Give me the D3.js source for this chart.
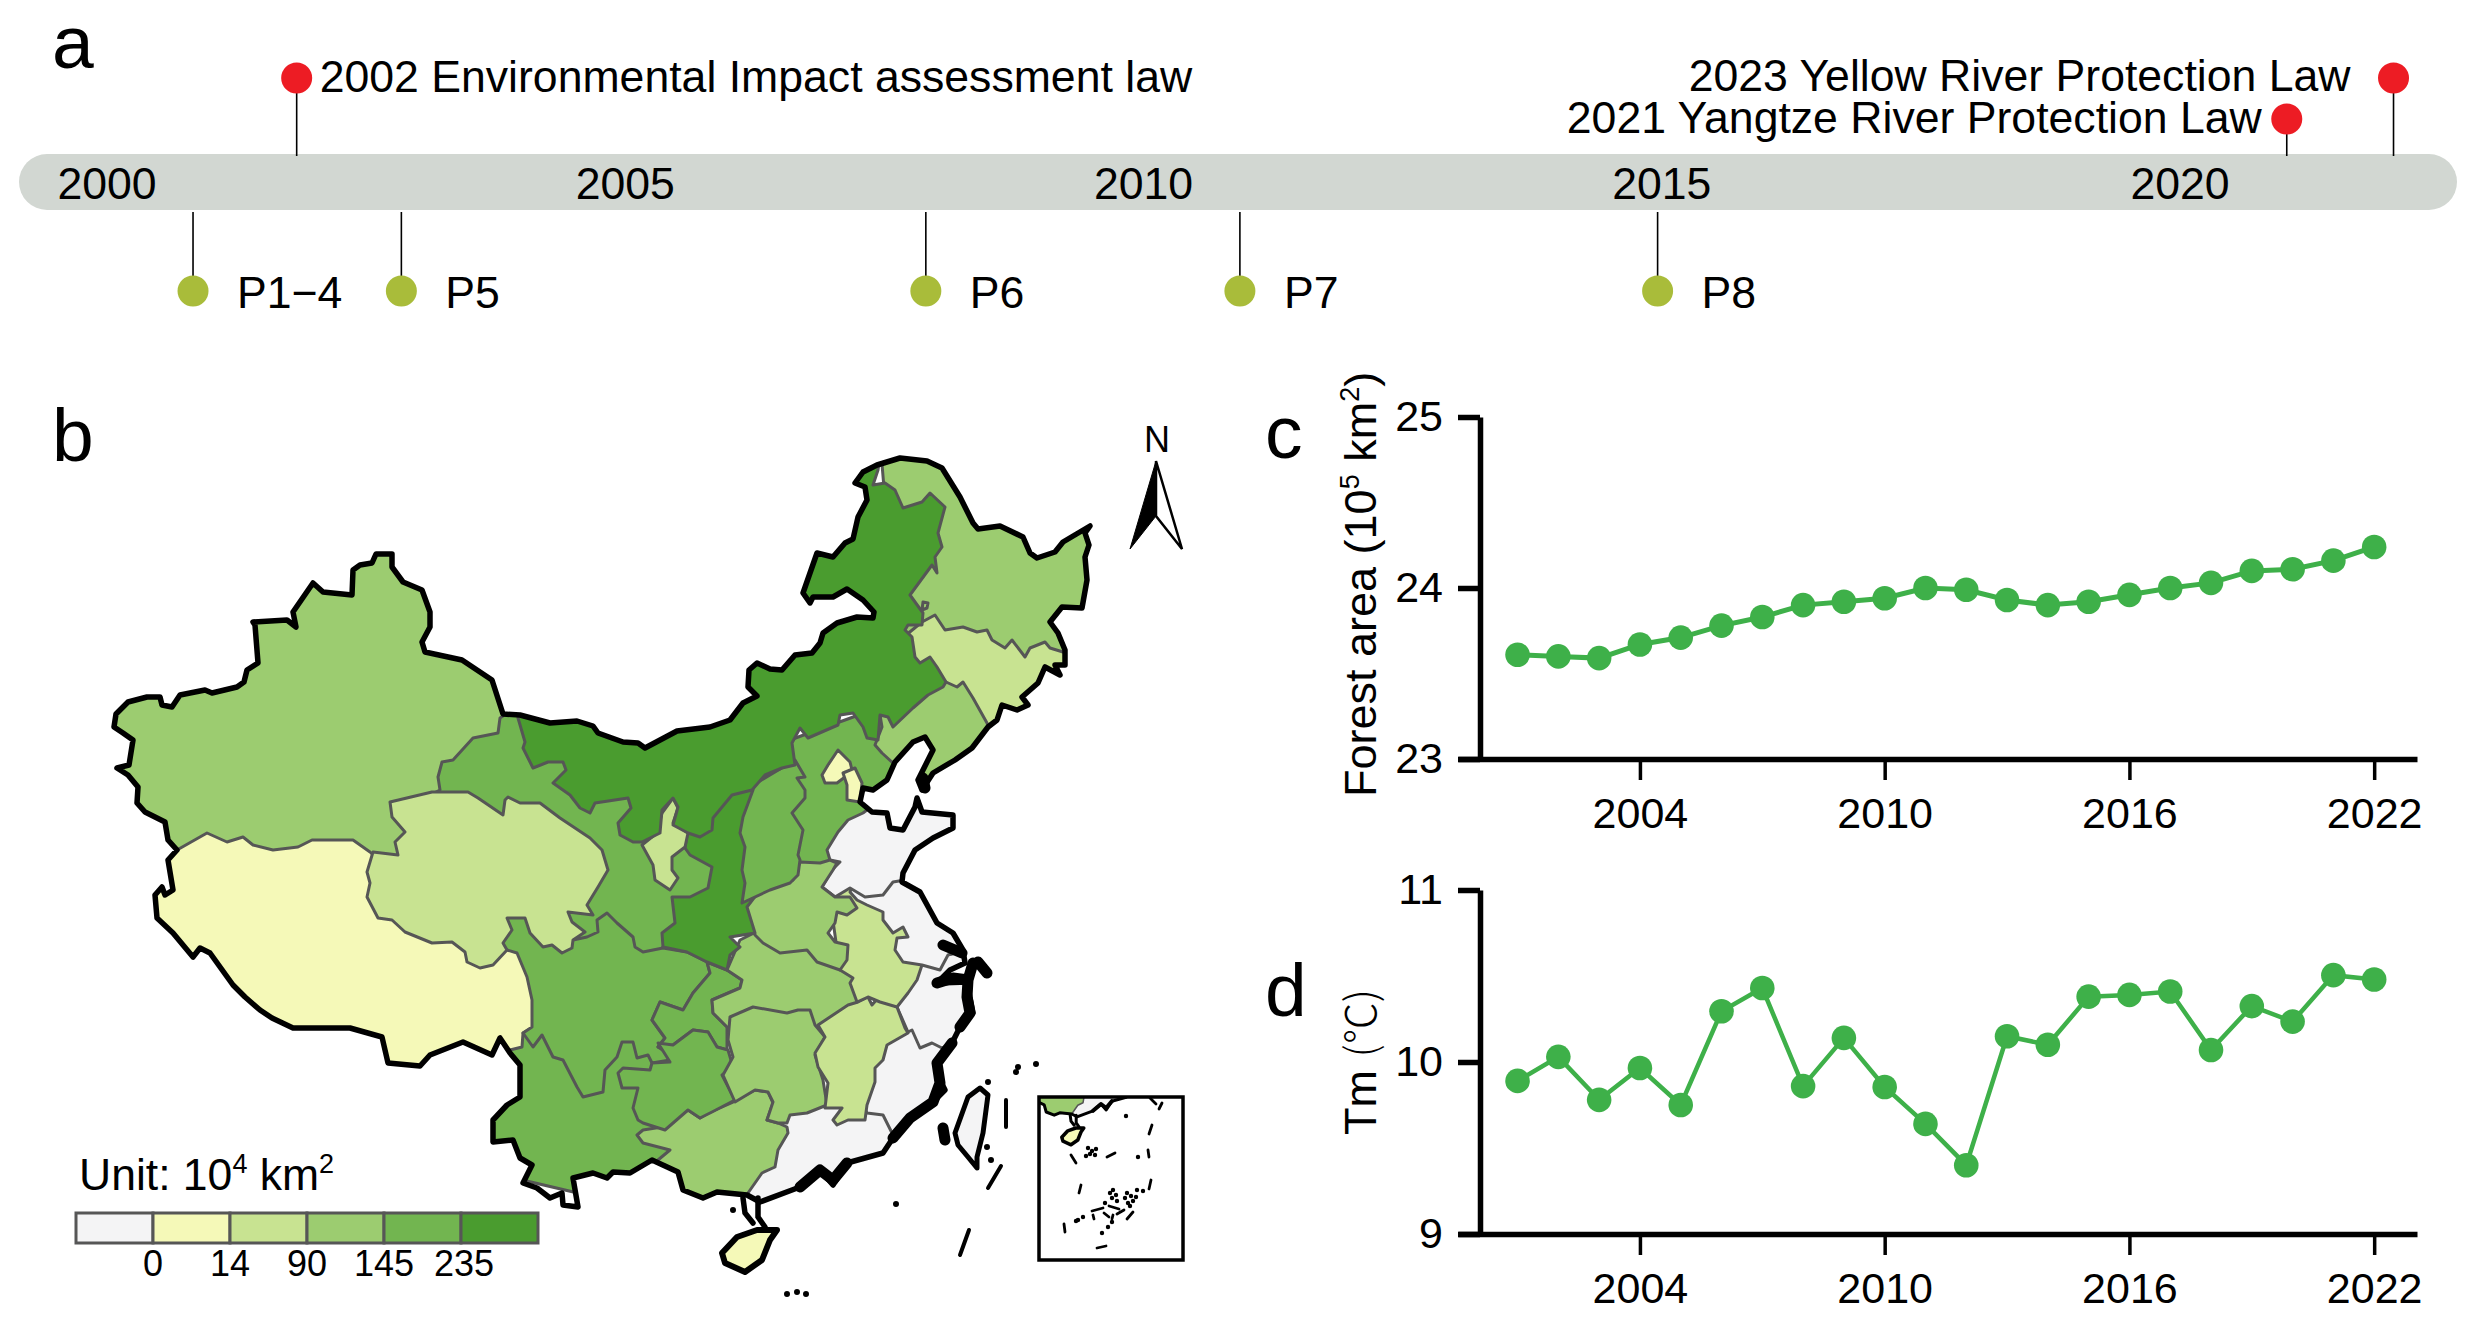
<!DOCTYPE html>
<html>
<head>
    <meta charset="utf-8">
    <script src="https://cdn.jsdelivr.net/npm/d3@7"></script>
</head>
<body style="margin:0px; background:white;">
<svg id="chart" width="2477" height="1328"></svg>
<script>
// ---------- panel a: timeline ----------
var axisYears = [2000, 2005, 2010, 2015, 2020];
var lawYears = [2001.83, 2021.03, 2022.06];
var lawLabels = ["2002 Environmental Impact assessment law", "2021 Yangtze River Protection Law", "2023 Yellow River Protection Law"];
var planYears = [2000.83, 2002.84, 2007.9, 2010.93, 2014.96];
var planLabels = ["P1\u22124", "P5", "P6", "P7", "P8"];

// ---------- panels c, d: yearly series ----------
var years = [2001,2002,2003,2004,2005,2006,2007,2008,2009,2010,2011,2012,2013,2014,2015,2016,2017,2018,2019,2020,2021,2022];
var forestArea = [23.61,23.60,23.59,23.67,23.71,23.78,23.83,23.90,23.92,23.94,24.00,23.99,23.93,23.90,23.92,23.96,24.00,24.03,24.10,24.11,24.16,24.24];
var meanTemp = [9.89,10.03,9.78,9.965,9.75,10.295,10.43,9.86,10.14,9.855,9.64,9.40,10.15,10.10,10.38,10.39,10.41,10.07,10.325,10.235,10.505,10.48];
var yearTicks = [2004, 2010, 2016, 2022];
var forestTicks = [23, 24, 25];
var tempTicks = [9, 10, 11];

// ---------- panel b: legend classes ----------
var binColors = ["#f4f4f5", "#f5f9b8", "#c8e391", "#9ccc70", "#72b550", "#4a9c2f"];
var binLabels = ["0", "14", "90", "145", "235"];

// ---------- panel b: outlines, in map grid units ----------
// Painted in order and clipped to the mainland outline, so a ring only has to
// be exact along borders with the provinces painted before it.
var mainland = [[177,850],[168,840],[165,822],[145,812],[137,803],[138,787],[128,775],[117,768],[129,765],[133,740],[123,733],[114,727],[116,714],[128,702],[147,697],[160,697],[162,705],[172,707],[180,695],[205,690],[212,693],[237,687],[244,682],[247,670],[258,663],[255,625],[253,622],[287,620],[296,627],[293,612],[313,583],[323,592],[352,595],[353,570],[360,565],[372,563],[376,554],[392,554],[392,567],[403,582],[422,590],[430,612],[430,627],[422,642],[425,652],[462,660],[492,680],[503,714],[520,715],[550,723],[577,721],[593,726],[598,733],[623,742],[638,743],[645,748],[677,731],[710,727],[730,720],[743,703],[757,696],[748,687],[749,670],[757,663],[770,669],[782,670],[795,655],[812,653],[820,643],[823,633],[837,623],[857,617],[873,618],[874,612],[863,600],[847,589],[833,597],[813,597],[810,603],[803,593],[817,553],[833,557],[845,543],[853,539],[858,517],[867,500],[865,487],[855,483],[863,472],[877,465],[900,458],[927,461],[942,468],[960,497],[973,523],[978,529],[1000,526],[1023,537],[1030,553],[1037,558],[1055,552],[1063,542],[1090,526],[1085,533],[1089,545],[1085,557],[1087,580],[1082,608],[1062,607],[1050,622],[1058,633],[1065,650],[1065,665],[1055,665],[1060,675],[1045,667],[1038,683],[1022,697],[1028,705],[1017,710],[1002,705],[997,720],[988,727],[972,748],[955,760],[933,773],[922,790],[918,780],[933,750],[925,737],[913,742],[895,762],[887,780],[873,790],[863,788],[860,802],[872,812],[887,813],[890,828],[903,830],[915,807],[917,798],[922,812],[953,815],[953,828],[933,838],[915,850],[903,873],[902,882],[920,892],[937,923],[953,933],[963,950],[965,963],[950,970],[937,983],[968,982],[968,987],[973,1013],[960,1027],[952,1043],[937,1063],[940,1080],[945,1090],[933,1102],[910,1118],[893,1138],[883,1153],[847,1163],[833,1185],[820,1170],[800,1187],[760,1202],[747,1195],[717,1192],[703,1198],[683,1190],[678,1172],[652,1160],[630,1173],[613,1172],[607,1178],[593,1173],[573,1178],[578,1207],[563,1205],[562,1193],[550,1198],[537,1188],[523,1183],[532,1165],[520,1158],[513,1140],[493,1142],[493,1120],[507,1105],[520,1097],[520,1065],[510,1053],[500,1038],[492,1055],[463,1042],[430,1055],[420,1066],[388,1063],[382,1037],[350,1028],[293,1028],[272,1018],[260,1010],[245,997],[233,985],[210,953],[200,948],[193,957],[173,933],[157,918],[155,895],[162,887],[165,895],[173,890],[168,860]];

var xinjiangRing = [[100,540],[510,540],[510,900],[100,900]];
var tibetRing = [[140,860],[177,850],[207,833],[227,842],[243,837],[253,845],[273,850],[298,847],[312,840],[353,840],[370,852],[400,880],[520,920],[560,1000],[540,1070],[490,1100],[300,1080],[130,900]];
var gansuRing = [[510,700],[503,716],[500,718],[498,733],[473,738],[453,760],[442,762],[438,777],[440,790],[420,800],[470,850],[520,950],[650,960],[680,930],[715,900],[715,860],[680,800],[640,700]];
var heilongjiangRing = [[880,440],[1100,440],[1100,680],[900,680]];
var jilinRing = [[900,640],[922,622],[935,615],[945,630],[963,627],[977,632],[987,630],[992,640],[1005,648],[1012,640],[1025,657],[1030,648],[1045,642],[1050,648],[1063,652],[1075,660],[1075,700],[1010,760],[930,760],[900,680]];
var hebeiRing = [[790,740],[900,700],[900,830],[860,850],[830,880],[790,880]];
var liaoningRing = [[880,700],[946,682],[957,687],[963,682],[973,698],[987,723],[1000,760],[940,800],[893,763],[882,753],[875,745],[882,727],[880,715]];
var yunnanRing = [[510,1050],[522,1047],[523,1033],[545,1020],[640,1030],[665,1060],[680,1125],[690,1180],[650,1210],[480,1170],[480,1060]];
var guangdongRing = [[770,1135],[790,1105],[850,1105],[875,1095],[910,1130],[900,1200],[740,1210],[755,1175]];
var fujianRing = [[880,1030],[1000,1030],[1000,1140],[892,1133],[883,1115],[867,1113],[860,1100],[860,1060]];
var zhejiangRing = [[920,960],[1000,945],[1000,1060],[950,1045],[942,1048],[932,1043],[920,1048],[912,1030],[908,1032],[897,1007],[910,985]];
var guangxiRing = [[643,1130],[662,1127],[688,1110],[700,1118],[710,1112],[733,1102],[755,1090],[768,1092],[773,1103],[767,1120],[778,1123],[787,1127],[788,1133],[778,1150],[775,1167],[762,1173],[748,1193],[750,1220],[660,1190],[658,1160],[670,1150],[643,1143],[637,1135]];
var sichuanRing = [[507,950],[517,953],[527,977],[532,1000],[532,1027],[523,1033],[533,1047],[542,1035],[553,1057],[563,1060],[577,1087],[583,1097],[603,1092],[605,1070],[617,1057],[622,1042],[633,1042],[637,1058],[648,1055],[652,1063],[670,1060],[670,1055],[658,1047],[665,1038],[652,1020],[660,1002],[683,1010],[693,993],[710,973],[707,962],[687,952],[663,948],[643,952],[635,947],[633,937],[617,923],[607,913],[597,920],[598,932],[587,937],[573,940],[560,900],[510,905],[495,950]];
var chongqingRing = [[707,962],[710,973],[693,993],[683,1010],[660,1002],[652,1020],[665,1038],[658,1047],[673,1045],[693,1030],[708,1032],[717,1047],[727,1050],[727,1027],[713,1013],[712,1000],[740,988],[742,980],[727,970]];
var guizhouRing = [[618,1073],[623,1068],[650,1070],[652,1063],[670,1062],[658,1043],[673,1045],[693,1030],[708,1032],[717,1047],[728,1050],[733,1067],[722,1075],[735,1100],[712,1112],[700,1118],[688,1110],[665,1130],[643,1123],[638,1120],[633,1108],[638,1088],[622,1088]];
var hubeiRing = [[727,970],[742,980],[740,988],[712,1000],[713,1013],[727,1027],[740,1040],[860,1030],[870,990],[840,960],[760,930],[740,940]];
var hunanRing = [[730,1017],[753,1007],[787,1013],[798,1010],[810,1010],[815,1025],[825,1037],[815,1055],[823,1080],[827,1105],[807,1113],[790,1115],[787,1123],[778,1123],[767,1120],[773,1102],[768,1092],[755,1090],[735,1102],[723,1075],[733,1057],[728,1040]];
var jiangxiRing = [[818,1025],[848,1005],[858,1002],[868,997],[872,1005],[878,998],[897,1007],[905,1028],[908,1033],[887,1045],[883,1060],[875,1068],[875,1082],[867,1105],[865,1120],[848,1120],[837,1125],[833,1120],[842,1108],[825,1108],[828,1083],[818,1067],[815,1053],[825,1037]];
var anhuiRing = [[850,880],[930,950],[922,965],[917,980],[908,993],[897,1007],[880,1002],[868,997],[857,1002],[850,983],[853,978],[840,970],[830,900]];
var jiangsuRing = [[855,880],[950,880],[980,945],[948,955],[940,970],[922,965],[903,962],[895,950],[897,938],[908,937],[903,927],[893,933],[883,920],[883,912],[867,905],[857,900],[850,892]];
var shandongRing = [[863,813],[848,820],[838,832],[827,850],[830,860],[840,862],[832,870],[822,887],[835,897],[850,888],[865,897],[883,895],[893,882],[905,880],[960,860],[960,800],[880,800]];
var henanRing = [[742,903],[770,888],[793,880],[800,862],[820,863],[830,860],[837,863],[833,870],[822,887],[835,897],[850,897],[857,908],[847,915],[837,912],[835,923],[828,933],[835,942],[848,945],[847,960],[840,970],[817,962],[807,950],[780,953],[763,943],[755,935]];
var shaanxiRing = [[686,825],[687,835],[685,848],[690,855],[712,867],[708,888],[690,897],[672,897],[675,923],[662,933],[663,947],[687,952],[707,962],[727,970],[730,955],[740,947],[730,937],[755,933],[747,907],[760,890],[770,800],[730,780]];
var shanxiRing = [[753,785],[795,760],[805,777],[797,778],[805,790],[805,798],[792,813],[803,830],[798,855],[800,860],[798,875],[790,883],[770,890],[742,903],[745,883],[742,870],[745,847],[740,833],[743,817],[753,790]];
var ningxiaRing = [[673,798],[678,808],[673,823],[688,833],[685,847],[672,857],[672,870],[678,878],[670,890],[655,880],[653,865],[642,845],[657,833],[662,813]];
var qinghaiRing = [[390,802],[432,792],[468,792],[478,798],[503,815],[505,800],[508,797],[520,803],[540,803],[560,818],[590,838],[602,850],[608,870],[598,887],[587,905],[593,915],[568,912],[572,922],[585,932],[573,940],[572,948],[562,953],[552,945],[543,947],[530,933],[525,918],[507,918],[512,930],[503,943],[507,950],[493,965],[480,968],[467,962],[465,952],[452,942],[432,943],[405,932],[392,920],[378,918],[367,897],[370,883],[367,872],[373,852],[398,855],[395,842],[405,832],[392,817]];
var beijingRing = [[838,750],[850,762],[852,770],[845,777],[837,783],[825,783],[822,775],[828,765]];
var tianjinRing = [[855,768],[862,783],[860,802],[847,800],[847,785],[843,773]];
var innerMongoliaRing = [[518,700],[518,718],[525,742],[523,748],[533,768],[548,762],[563,762],[566,770],[553,783],[570,795],[580,808],[590,813],[595,803],[628,798],[631,808],[618,823],[620,835],[633,842],[642,842],[660,833],[662,810],[673,798],[678,807],[673,825],[688,833],[700,837],[712,830],[713,818],[732,795],[752,790],[765,775],[782,768],[795,765],[792,743],[800,728],[808,738],[838,725],[840,715],[853,713],[863,727],[867,738],[878,740],[880,715],[888,717],[893,727],[913,708],[928,695],[943,687],[946,682],[937,667],[930,657],[920,663],[915,657],[912,637],[905,630],[908,625],[922,625],[923,613],[910,595],[932,565],[937,573],[935,557],[942,547],[938,533],[945,507],[930,493],[922,502],[903,508],[895,490],[885,483],[873,485],[878,470],[880,455],[850,440]];
var enclaveRing = [[922,610],[923,602],[928,603],[927,608]];

var provinceNames = ["Xinjiang","Tibet","Gansu","Heilongjiang","Jilin","Hebei","Liaoning","Yunnan","Guangdong","Fujian","Zhejiang","Guangxi","Sichuan","Chongqing","Guizhou","Hubei","Hunan","Jiangxi","Anhui","Jiangsu","Shandong","Henan","Shaanxi","Shanxi","Ningxia","Qinghai","Beijing","Tianjin","Inner Mongolia","Heilongjiang enclave"];
var provinceBins = [3,1,4,3,2,4,3,4,0,0,0,3,4,4,4,3,3,2,2,0,0,3,5,4,2,2,1,1,5,3];
var provinceRings = [xinjiangRing,tibetRing,gansuRing,heilongjiangRing,jilinRing,hebeiRing,liaoningRing,yunnanRing,guangdongRing,fujianRing,zhejiangRing,guangxiRing,sichuanRing,chongqingRing,guizhouRing,hubeiRing,hunanRing,jiangxiRing,anhuiRing,jiangsuRing,shandongRing,henanRing,shaanxiRing,shanxiRing,ningxiaRing,qinghaiRing,beijingRing,tianjinRing,innerMongoliaRing,enclaveRing];

var hainanRing = [[777,1230],[770,1240],[762,1260],[745,1272],[725,1263],[722,1253],[737,1237],[757,1230]];
var taiwanRing = [[980,1088],[988,1095],[983,1133],[977,1157],[977,1168],[968,1157],[958,1145],[955,1133],[968,1097]];

// island rich stretches of the coast, where the border reads as a thick line
var coastRuns = [
    [[943,945],[962,953]],
    [[937,983],[953,978],[968,980]],
    [[973,963],[968,980],[967,997],[970,1013],[960,1027]],
    [[978,962],[987,973]],
    [[952,1043],[937,1063],[940,1083],[933,1102],[910,1118],[893,1138]],
    [[847,1163],[833,1180],[820,1170],[800,1187]],
    [[923,778],[925,788]],
    [[943,1128],[945,1140]]
];
var leizhouLines = [
    [[743,1198],[745,1213],[753,1223]],
    [[758,1198],[758,1217],[765,1227]]
];
var seaDashes = [
    [[1006,1100],[1006,1127]],
    [[1001,1166],[988,1188]],
    [[969,1230],[960,1255]]
];
var islandDots = [[896,1204],[1036,1064],[1018,1067],[1016,1072],[988,1082],[987,1147],[991,1160],[733,1210],[787,1294],[797,1292],[806,1294]];

// South China Sea inset
var insetDashes = [
    [[1150,1098],[1156,1104]],
    [[1162,1103],[1159,1109]],[[1152,1125],[1149,1134]],[[1148,1150],[1149,1157]],[[1151,1180],[1149,1189]],
    [[1071,1155],[1076,1163]],[[1081,1185],[1079,1193]],[[1064,1224],[1065,1232]],[[1133,1212],[1127,1219]],
    [[1097,1248],[1106,1246]],[[1092,1211],[1103,1208]],[[1109,1206],[1119,1209]],[[1117,1214],[1124,1210]],
    [[1093,1215],[1094,1219]],[[1104,1213],[1109,1217]],[[1113,1215],[1112,1219]],[[1107,1157],[1115,1153]]
];
var insetDots = [[1126,1116],[1138,1157],[1102,1233],[1108,1227],[1112,1222],
    [1088,1148],[1092,1151],[1096,1149],[1090,1154],[1086,1156],[1095,1155],
    [1113,1190],[1116,1195],[1112,1198],[1117,1201],[1110,1193],
    [1127,1193],[1131,1196],[1125,1198],[1133,1201],[1128,1203],[1136,1197],[1130,1206],
    [1137,1190],[1143,1191],[1105,1203],[1078,1220],[1083,1217],[1076,1221]];

var svg = d3.select("#chart");
var ink = "#000000";
var font = "'Liberation Sans', Arial, sans-serif";
var lineGreen = "#3eb049";

function panelLetter(text, x, y) {
    svg.append("text").attr("x", x).attr("y", y)
        .attr("font-family", font).attr("font-size", 75).text(text);
}
panelLetter("a", 52, 68);
panelLetter("b", 52, 461);
panelLetter("c", 1265, 458);
panelLetter("d", 1265, 1016);

// ---------- panel a ----------
var timeX = d3.scaleLinear().domain([2000, 2020]).range([107, 2180]);
var timeG = svg.append("g").attr("font-family", font).attr("font-size", 44.6);

timeG.append("rect").attr("x", 19).attr("y", 154).attr("width", 2438).attr("height", 56)
    .attr("rx", 28).attr("ry", 28).attr("fill", "#d2d7d2");

timeG.selectAll(".year").data(axisYears).enter().append("text")
    .attr("x", d => timeX(d)).attr("y", 199).attr("text-anchor", "middle").text(d => d);

var lawTop = [78, 119, 78];
timeG.selectAll(".lawline").data(lawYears).enter().append("line")
    .attr("x1", d => timeX(d)).attr("x2", d => timeX(d))
    .attr("y1", (d, i) => lawTop[i]).attr("y2", 156)
    .attr("stroke", ink).attr("stroke-width", 1.6);
timeG.selectAll(".lawdot").data(lawYears).enter().append("circle")
    .attr("cx", d => timeX(d)).attr("cy", (d, i) => lawTop[i]).attr("r", 15.5).attr("fill", "#ed1c24");
var lawDx = [23, -25, -43];
var lawBase = [92, 133, 91];
timeG.selectAll(".lawtext").data(lawLabels).enter().append("text")
    .attr("x", (d, i) => timeX(lawYears[i]) + lawDx[i]).attr("y", (d, i) => lawBase[i])
    .attr("text-anchor", (d, i) => i == 0 ? "start" : "end").text(d => d);

timeG.selectAll(".planline").data(planYears).enter().append("line")
    .attr("x1", d => timeX(d)).attr("x2", d => timeX(d)).attr("y1", 212).attr("y2", 290)
    .attr("stroke", ink).attr("stroke-width", 1.6);
timeG.selectAll(".plandot").data(planYears).enter().append("circle")
    .attr("cx", d => timeX(d)).attr("cy", 291).attr("r", 15.5).attr("fill", "#a9bc3a");
timeG.selectAll(".plantext").data(planLabels).enter().append("text")
    .attr("x", (d, i) => timeX(planYears[i]) + 44).attr("y", 308).text(d => d);

// ---------- panel b ----------
function toGeo(ring) {
    return {type: "Polygon", coordinates: [ring.concat([ring[0]])]};
}

function drawMap(parent, k, tx, ty, clipId, inner, outer, thick) {
    var path = d3.geoPath(d3.geoIdentity().scale(k).translate([tx, ty]));
    parent.append("clipPath").attr("id", clipId).append("path").attr("d", path(toGeo(mainland)));
    parent.append("g").attr("clip-path", "url(#" + clipId + ")")
        .selectAll("path").data(provinceRings).enter().append("path")
        .attr("d", d => path(toGeo(d)))
        .attr("fill", (d, i) => binColors[provinceBins[i]])
        .attr("stroke", "#565656").attr("stroke-width", inner).attr("stroke-linejoin", "round");
    parent.append("path").attr("d", path(toGeo(mainland)))
        .attr("fill", "none").attr("stroke", ink).attr("stroke-width", outer).attr("stroke-linejoin", "round");
    parent.append("path").attr("d", path({type: "MultiLineString", coordinates: coastRuns}))
        .attr("fill", "none").attr("stroke", ink).attr("stroke-width", thick)
        .attr("stroke-linejoin", "round").attr("stroke-linecap", "round");
    parent.append("path").attr("d", path({type: "MultiLineString", coordinates: leizhouLines}))
        .attr("fill", "none").attr("stroke", ink).attr("stroke-width", outer).attr("stroke-linecap", "round");
    parent.append("path").attr("d", path(toGeo(hainanRing)))
        .attr("fill", binColors[1]).attr("stroke", ink).attr("stroke-width", outer + 0.5).attr("stroke-linejoin", "round");
    return path;
}

var mapG = svg.append("g");
var mapPath = drawMap(mapG, 1, 0, 0, "mainlandClip", 3, 5.5, 11);

mapG.append("path").attr("d", mapPath(toGeo(taiwanRing)))
    .attr("fill", binColors[0]).attr("stroke", ink).attr("stroke-width", 5).attr("stroke-linejoin", "round");
mapG.append("path").attr("d", mapPath({type: "MultiLineString", coordinates: seaDashes}))
    .attr("fill", "none").attr("stroke", ink).attr("stroke-width", 4).attr("stroke-linecap", "round");
mapPath.pointRadius(3);
mapG.append("path").attr("d", mapPath({type: "MultiPoint", coordinates: islandDots})).attr("fill", ink);

// inset: same outlines, shrunk
var insetX = 1039, insetY = 1097, insetW = 144, insetH = 163;
var insetG = svg.append("g");
insetG.append("clipPath").attr("id", "insetClip").append("rect")
    .attr("x", insetX).attr("y", insetY).attr("width", insetW).attr("height", insetH);
var insetInner = insetG.append("g").attr("clip-path", "url(#insetClip)");
drawMap(insetInner, 0.4, 773, 636, "insetMainland", 1.5, 3, 4);

var plainPath = d3.geoPath(d3.geoIdentity());
plainPath.pointRadius(2.2);
insetG.append("path").attr("d", plainPath({type: "MultiLineString", coordinates: insetDashes}))
    .attr("fill", "none").attr("stroke", ink).attr("stroke-width", 2.8).attr("stroke-linecap", "round");
insetG.append("path").attr("d", plainPath({type: "MultiPoint", coordinates: insetDots})).attr("fill", ink);
insetG.append("rect").attr("x", insetX).attr("y", insetY).attr("width", insetW).attr("height", insetH)
    .attr("fill", "none").attr("stroke", ink).attr("stroke-width", 3.5);

// north arrow
var arrowG = svg.append("g");
arrowG.append("text").attr("x", 1157).attr("y", 452).attr("text-anchor", "middle")
    .attr("font-family", font).attr("font-size", 36).text("N");
var arrowLine = d3.line();
arrowG.append("path").attr("d", arrowLine([[1156,461],[1130,549],[1156,516]]) + "Z").attr("fill", ink).attr("stroke", ink).attr("stroke-width", 1);
arrowG.append("path").attr("d", arrowLine([[1156,461],[1182,549],[1156,516]]) + "Z").attr("fill", "white").attr("stroke", ink).attr("stroke-width", 2.5);

// colour legend
var legendX = d3.scaleBand().domain(d3.range(binColors.length)).range([76, 538]);
var legendG = svg.append("g").attr("font-family", font);
legendG.selectAll("rect").data(binColors).enter().append("rect")
    .attr("x", (d, i) => legendX(i)).attr("y", 1213).attr("width", legendX.bandwidth()).attr("height", 30)
    .attr("fill", d => d).attr("stroke", "#565656").attr("stroke-width", 3);
legendG.selectAll(".binlabel").data(binLabels).enter().append("text")
    .attr("x", (d, i) => legendX(i + 1) + (i == 4 ? 3 : 0)).attr("y", 1276).attr("text-anchor", "middle")
    .attr("font-size", 36).text(d => d);

var unitText = legendG.append("text").attr("x", 79).attr("y", 1190).attr("font-size", 44.5);
unitText.append("tspan").text("Unit: 10");
unitText.append("tspan").attr("font-size", 27).attr("dy", -17).text("4");
unitText.append("tspan").attr("dy", 17).text(" km");
unitText.append("tspan").attr("font-size", 27).attr("dy", -17).text("2");

// ---------- panels c, d ----------
var lineX = d3.scaleLinear().domain([1999.54, 2023.05]).range([1458, 2417]);

function linePanel(values, ticks, yTop, yBottom, lineWidth) {
    var y = d3.scaleLinear().domain([ticks[0], ticks[ticks.length - 1]]).range([yBottom, yTop]);
    var g = svg.append("g").attr("font-family", font);

    var yAxis = g.append("g").attr("transform", "translate(1480,0)")
        .call(d3.axisLeft(y).tickValues(ticks).tickFormat(d3.format("d")).tickSize(22).tickSizeOuter(0).tickPadding(15));
    yAxis.select(".domain").attr("stroke", ink).attr("stroke-width", 5.5);
    yAxis.selectAll("line").attr("stroke", ink).attr("stroke-width", 5.5);
    yAxis.selectAll("text").attr("font-family", font).attr("font-size", 43).attr("fill", ink).attr("dy", 13);

    var xAxis = g.append("g").attr("transform", "translate(0," + yBottom + ")")
        .call(d3.axisBottom(lineX).tickValues(yearTicks).tickFormat(d3.format("d")).tickSize(21).tickSizeOuter(0));
    xAxis.select(".domain").attr("stroke", ink).attr("stroke-width", 5.5);
    xAxis.selectAll("line").attr("stroke", ink).attr("stroke-width", 3.5);
    xAxis.selectAll("text").attr("font-family", font).attr("font-size", 43).attr("fill", ink).attr("y", 69).attr("dy", 0);

    var line = d3.line().x((d, i) => lineX(years[i])).y(d => y(d));
    g.append("path").attr("d", line(values)).attr("fill", "none")
        .attr("stroke", lineGreen).attr("stroke-width", lineWidth);
    g.selectAll("circle").data(values).enter().append("circle")
        .attr("cx", (d, i) => lineX(years[i])).attr("cy", d => y(d)).attr("r", 12.3).attr("fill", lineGreen);
}

linePanel(forestArea, forestTicks, 417, 759, 5);
linePanel(meanTemp, tempTicks, 890, 1234, 4.5);

var forestTitle = svg.append("text").attr("transform", "translate(1376,797) rotate(-90)")
    .attr("font-family", font).attr("font-size", 45);
forestTitle.append("tspan").text("Forest area (10");
forestTitle.append("tspan").attr("font-size", 27).attr("dy", -17).text("5");
forestTitle.append("tspan").attr("dy", 17).text(" km");
forestTitle.append("tspan").attr("font-size", 27).attr("dy", -17).text("2");
forestTitle.append("tspan").attr("dy", 17).text(")");

var tempTitle = svg.append("text").attr("transform", "translate(1376,1135) rotate(-90)")
    .attr("font-family", font).attr("font-size", 45);
tempTitle.append("tspan").text("Tm ");
tempTitle.append("tspan").attr("font-family", "'Noto Sans CJK SC'").attr("font-size", 42).attr("font-weight", 300).text("(\u2103)");
</script>
</body>
</html>
